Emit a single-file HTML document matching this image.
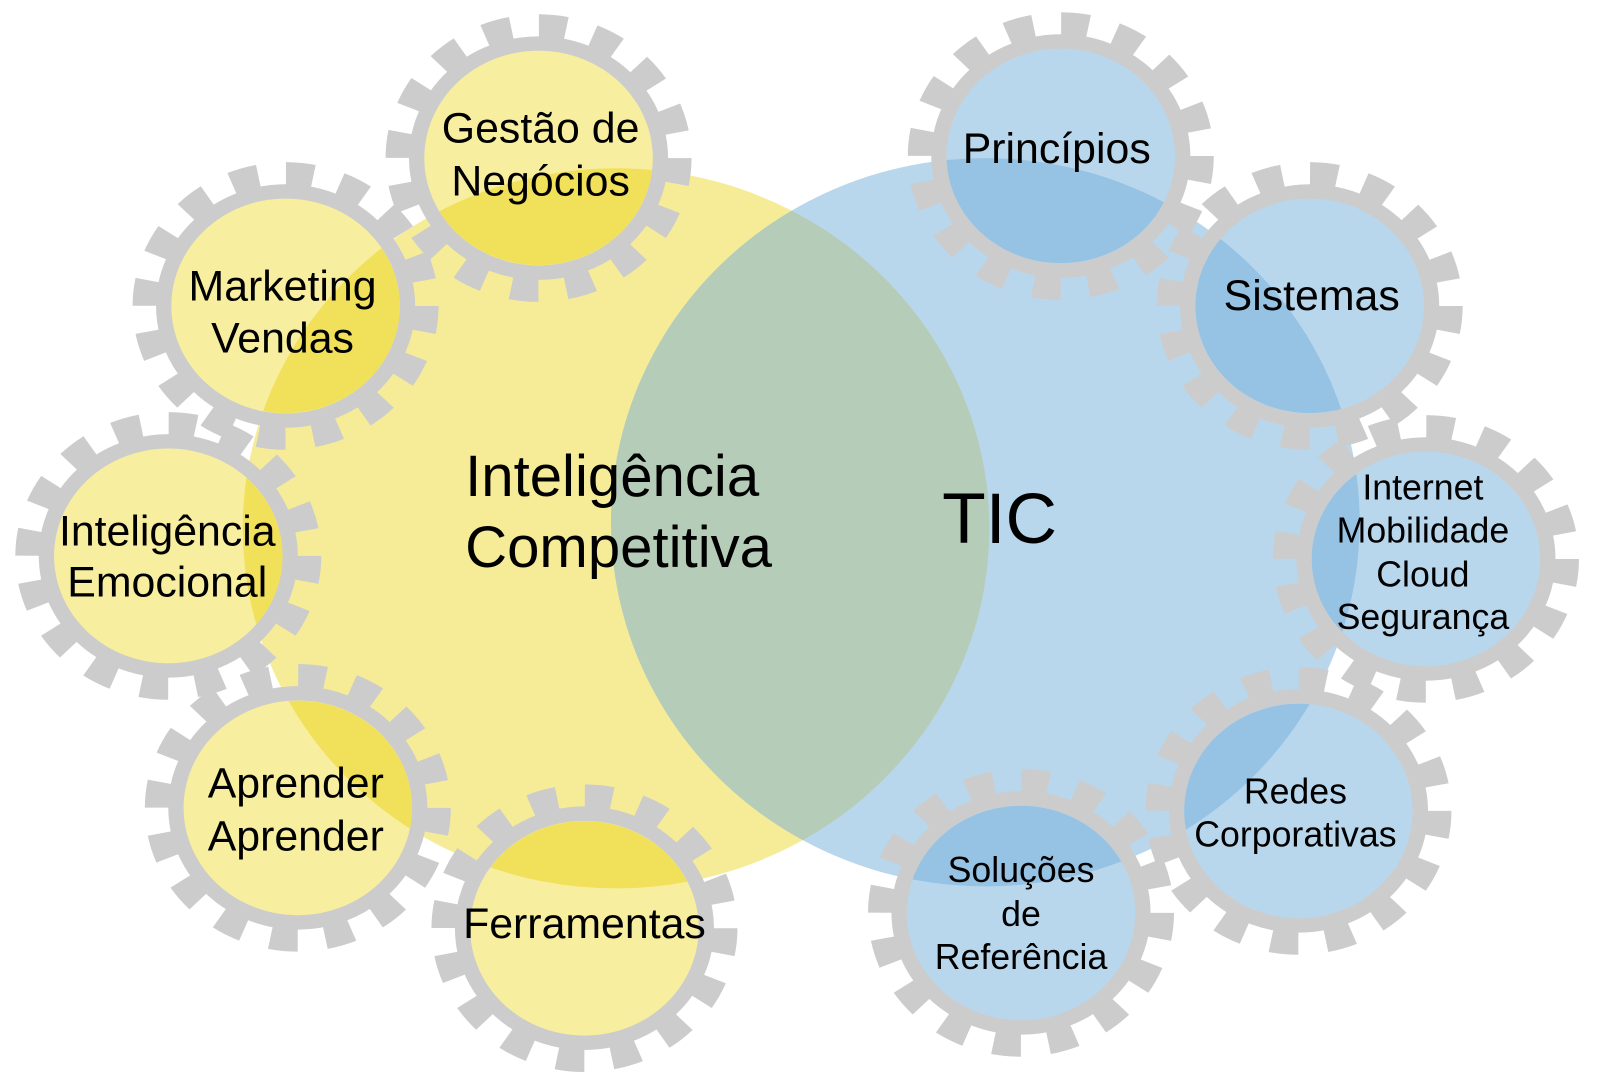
<!DOCTYPE html>
<html><head><meta charset="utf-8"><style>html,body{margin:0;padding:0;background:#fff}svg{display:block}text{font-family:"Liberation Sans",Arial,sans-serif;fill:#000;dominant-baseline:central}</style></head>
<body>
<svg width="1600" height="1085" viewBox="0 0 1600 1085" xmlns="http://www.w3.org/2000/svg">
<defs>
<ellipse id="Y" cx="604" cy="518" rx="366" ry="353"/>
<ellipse id="B" cx="966" cy="512" rx="367" ry="357"/>
<clipPath id="cy"><use href="#Y"/></clipPath>
<g id="gear">
  <circle r="138" fill="none" stroke="#cccccc" stroke-width="24" stroke-dasharray="27 27.2"/>
  <circle r="119" fill="none" stroke="#cccccc" stroke-width="16"/>
</g>
</defs>
<g transform="scale(1.02)">
<use href="#Y" fill="#f6ec98"/>
<use href="#B" fill="#b9d7ec"/>
<use href="#B" fill="#b5cdb8" clip-path="url(#cy)"/>

<g transform="translate(528,155) scale(1,0.94)"><use href="#gear"/><circle r="112" fill="#f7ef9f"/></g>
<clipPath id="g1"><ellipse cx="528" cy="155" rx="112" ry="105"/></clipPath>
<use href="#Y" fill="#f1e05a" clip-path="url(#g1)"/>

<g transform="translate(280,300) scale(1,0.94)"><use href="#gear"/><circle r="112" fill="#f7ef9f"/></g>
<clipPath id="g2"><ellipse cx="280" cy="300" rx="112" ry="105"/></clipPath>
<use href="#Y" fill="#f1e05a" clip-path="url(#g2)"/>

<g transform="translate(165,545) scale(1,0.94)"><use href="#gear"/><circle r="112" fill="#f7ef9f"/></g>
<clipPath id="g3"><ellipse cx="165" cy="545" rx="112" ry="105"/></clipPath>
<use href="#Y" fill="#f1e05a" clip-path="url(#g3)"/>

<g transform="translate(292,792) scale(1,0.94)"><use href="#gear"/><circle r="112" fill="#f7ef9f"/></g>
<clipPath id="g4"><ellipse cx="292" cy="792" rx="112" ry="105"/></clipPath>
<use href="#Y" fill="#f1e05a" clip-path="url(#g4)"/>

<g transform="translate(573,910) scale(1,0.94)"><use href="#gear"/><circle r="112" fill="#f7ef9f"/></g>
<clipPath id="g5"><ellipse cx="573" cy="910" rx="112" ry="105"/></clipPath>
<use href="#Y" fill="#f1e05a" clip-path="url(#g5)"/>

<g transform="translate(1040,153) scale(1,0.94)"><use href="#gear"/><circle r="112" fill="#b9d7ec"/></g>
<clipPath id="b1"><ellipse cx="1040" cy="153" rx="112" ry="105"/></clipPath>
<use href="#B" fill="#96c2e3" clip-path="url(#b1)"/>

<g transform="translate(1284,300) scale(1,0.94)"><use href="#gear"/><circle r="112" fill="#b9d7ec"/></g>
<clipPath id="b2"><ellipse cx="1284" cy="300" rx="112" ry="105"/></clipPath>
<use href="#B" fill="#96c2e3" clip-path="url(#b2)"/>

<g transform="translate(1398,548) scale(1,0.94)"><use href="#gear"/><circle r="112" fill="#b9d7ec"/></g>
<clipPath id="b3"><ellipse cx="1398" cy="548" rx="112" ry="105"/></clipPath>
<use href="#B" fill="#96c2e3" clip-path="url(#b3)"/>

<g transform="translate(1273,795) scale(1,0.94)"><use href="#gear"/><circle r="112" fill="#b9d7ec"/></g>
<clipPath id="b4"><ellipse cx="1273" cy="795" rx="112" ry="105"/></clipPath>
<use href="#B" fill="#96c2e3" clip-path="url(#b4)"/>

<g transform="translate(1001,895) scale(1,0.94)"><use href="#gear"/><circle r="112" fill="#b9d7ec"/></g>
<clipPath id="b5"><ellipse cx="1001" cy="895" rx="112" ry="105"/></clipPath>
<use href="#B" fill="#96c2e3" clip-path="url(#b5)"/>

<g font-size="42" text-anchor="middle">
<text x="530" y="126">Gestão de</text><text x="530" y="178">Negócios</text>
<text x="277" y="281">Marketing</text><text x="277" y="332">Vendas</text>
<text x="164" y="521">Inteligência</text><text x="164" y="571">Emocional</text>
<text x="290" y="768">Aprender</text><text x="290" y="820">Aprender</text>
<text x="573" y="906">Ferramentas</text>
<text x="1036" y="146">Princípios</text>
<text x="1286" y="290">Sistemas</text>
</g>
<g font-size="35" text-anchor="middle">
<text x="1395" y="478">Internet</text><text x="1395" y="520">Mobilidade</text><text x="1395" y="563">Cloud</text><text x="1395" y="605">Segurança</text>
<text x="1270" y="776">Redes</text><text x="1270" y="818">Corporativas</text>
<text x="1001" y="853">Soluções</text><text x="1001" y="896">de</text><text x="1001" y="938">Referência</text>
</g>
<g font-size="57" text-anchor="start">
<text x="456" y="467">Inteligência</text>
<text x="456" y="537">Competitiva</text>
</g>
<text x="980" y="509" font-size="70" text-anchor="middle">TIC</text>
</g>
</svg>
</body></html>
